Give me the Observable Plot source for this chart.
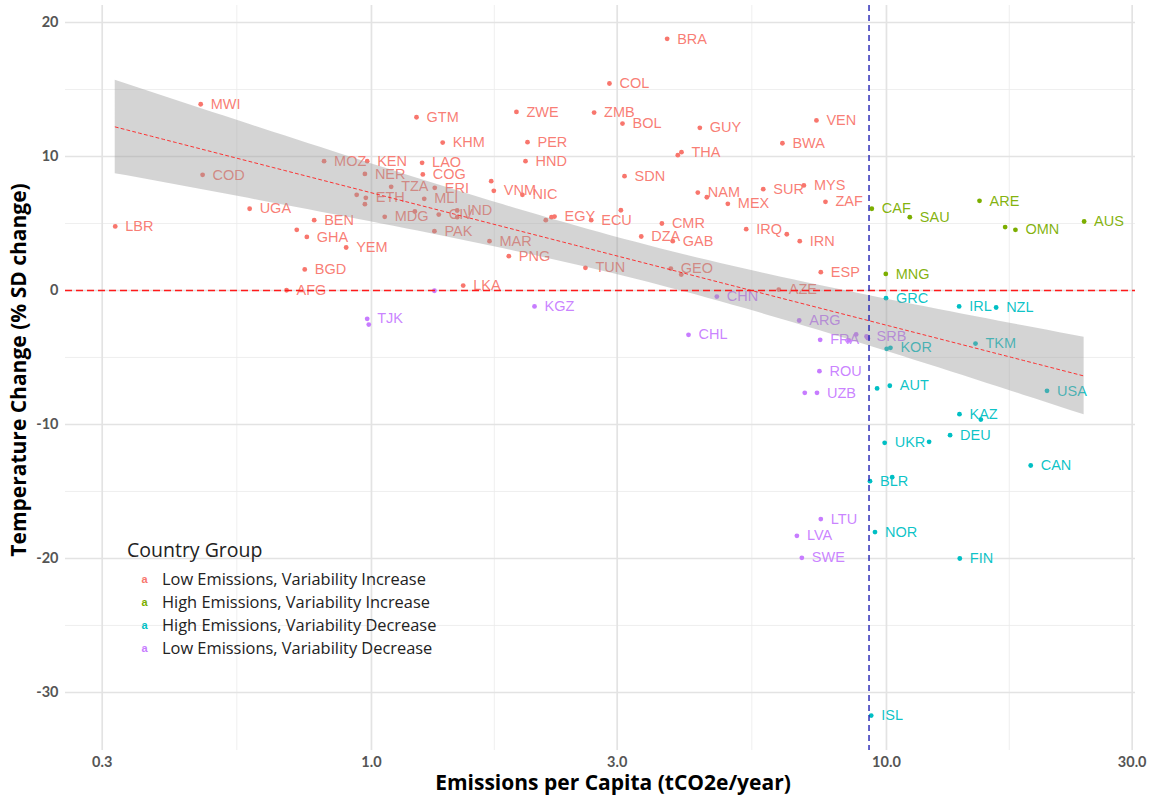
<!DOCTYPE html>
<html>
<head>
<meta charset="utf-8">
<script src="https://cdn.jsdelivr.net/npm/d3@7"></script>
<script src="https://cdn.jsdelivr.net/npm/@observablehq/plot@0.6"></script>
<style>
  html, body { margin: 0; padding: 0; background: #fff; }
  #wrap { position: relative; width: 1156px; height: 798px; overflow: hidden; }
  .ttl { position: absolute; font-family: "Open Sans", Lato, sans-serif; font-weight: 700; color: #000; white-space: nowrap; }
  #legend { position: absolute; left: 127px; top: 536px; font-family: "Open Sans", Lato, sans-serif; color: #222; }
  #legend .lt { font-size: 19.5px; margin-bottom: 4px; line-height: 27px; }
  #legend .it { display: flex; align-items: center; height: 23px; font-size: 16.4px; }
  #legend .k { width: 35px; text-align: center; font: bold 11px "Liberation Sans", Arial, sans-serif; }
</style>
</head>
<body>
<div id="wrap"></div>
<script>
// ---- data ----
const groupNames = {
  LI: "Low Emissions, Variability Increase",
  HI: "High Emissions, Variability Increase",
  HD: "High Emissions, Variability Decrease",
  LD: "Low Emissions, Variability Decrease"
};
const groupOrder = ["LI", "HI", "HD", "LD"];
const groupColors = ["#F8766D", "#7CAE00", "#00BFC4", "#C77CFF"];

const countries = [
  "LBR","MWI","COD","UGA","MOZ","KEN","NER","BEN","","GHA","YEM","BGD","AFG","","ETH","",
  "GTM","KHM","ZWE","PER","HND","ZMB","BOL","COL","LAO","COG","TZA","ERI","MLI","CIV","","IND","",
  "MDG","PAK","LKA","","VNM","NIC","MAR","PNG","EGY","","","ECU","","SDN","TUN","DZA","CMR",
  "BRA","GUY","","THA","VEN","BWA","NAM","","MEX","SUR","MYS","ZAF","IRQ","","IRN","GAB","GEO","","ESP","AZE",
  "CAF","MNG","ARE","SAU","","OMN","AUS",
  "GRC","IRL","NZL","TKM","","KOR","USA","","AUT","KAZ","","UKR","","DEU","BLR","","NOR","CAN","FIN","ISL",
  "TJK","","","KGZ","CHN","CHL","ARG","FRA","","","SRB","","ROU","","UZB","LTU","LVA","SWE"
];
const emissions = [
  0.318,0.466,0.470,0.580,0.809,0.981,0.971,0.774,0.716,0.749,0.893,0.742,0.684,0.936,0.975,0.971,
  1.223,1.375,1.912,2.009,1.991,2.706,3.072,2.898,1.254,1.258,1.092,1.327,1.266,1.351,1.214,1.467,1.467,
  1.061,1.325,1.507,1.708,1.728,1.964,1.695,1.848,2.267,2.236,2.18,2.671,3.05,3.1,2.603,3.341,3.664,
  3.751,4.341,3.934,3.999,7.312,6.28,4.302,4.479,4.92,5.764,6.913,7.613,5.341,6.404,6.786,3.846,3.813,3.995,7.456,6.178,
  9.366,9.97,15.16,11.1,17.0,17.8,24.2,
  9.98,13.84,16.33,14.89,10.01,10.18,20.5,9.59,10.15,13.86,15.25,9.92,12.1,13.29,9.29,10.26,9.5,19.06,13.88,9.34,
  0.981,0.988,1.325,2.073,4.684,4.127,6.77,7.435,8.45,8.733,9.146,9.2,7.41,6.94,7.33,7.456,6.7,6.85
];
const tempChange = [
  4.78,13.9,8.63,6.1,9.65,9.65,8.7,5.25,4.53,4.0,3.21,1.57,0.02,7.14,6.92,6.44,
  12.93,11.04,13.33,11.07,9.65,13.28,12.46,15.45,9.53,8.66,7.74,7.66,6.84,5.67,5.9,5.97,5.47,
  5.5,4.43,0.37,8.16,7.44,7.14,3.68,2.56,5.52,5.47,5.25,5.25,5.99,8.53,1.69,4.03,5.0,
  18.78,12.14,10.1,10.32,12.69,10.99,7.31,6.96,6.47,7.56,7.84,6.62,4.58,4.2,3.68,3.68,1.64,1.19,1.37,0.07,
  6.1,1.24,6.69,5.47,4.73,4.53,5.15,
  -0.57,-1.19,-1.27,-3.96,-4.35,-4.28,-7.49,-7.31,-7.11,-9.23,-9.63,-11.37,-11.29,-10.8,-14.23,-13.93,-18.03,-13.06,-20.0,-31.72,
  -2.11,-2.54,-0.02,-1.19,-0.45,-3.31,-2.24,-3.68,-3.73,-3.28,-3.43,-3.56,-6.02,-7.64,-7.64,-17.06,-18.31,-19.95
];
const groupCodes = [].concat(
  Array(70).fill("LI"), Array(7).fill("HI"), Array(20).fill("HD"), Array(18).fill("LD")
);
const emissionThreshold = 9.25;
const xTicks = [0.3, 1, 3, 10, 30];
const xMinor = [0.5477, 1.732, 5.477, 17.32];
const yTicks = [-30, -20, -10, 0, 10, 20];
const yMinor = [-25, -15, -5, 5, 15];

// ---- table ----
const rows = countries.map((c, i) => ({
  country: c, x: emissions[i], y: tempChange[i], group: groupNames[groupCodes[i]]
}));

// ---- linear fit of y on log10(x) with 95% band ----
const lx = rows.map(d => Math.log10(d.x));
const ys = rows.map(d => d.y);
const n = rows.length;
const mx = d3.mean(lx), my = d3.mean(ys);
let sxx = 0, sxy = 0;
for (let i = 0; i < n; i++) { sxx += (lx[i]-mx)**2; sxy += (lx[i]-mx)*(ys[i]-my); }
const b = sxy / sxx, a = my - b * mx;
let sse = 0;
for (let i = 0; i < n; i++) sse += (ys[i] - (a + b*lx[i]))**2;
const s = Math.sqrt(sse / (n - 2));
const tq = 1.98;
const [lmin, lmax] = d3.extent(lx);
const fit = d3.range(0, 81).map(k => {
  const g = lmin + (lmax - lmin) * k / 80;
  const f = a + b * g;
  const se = s * Math.sqrt(1/n + (g - mx)**2 / sxx);
  return { x: Math.pow(10, g), y: f, lo: f - tq*se, hi: f + tq*se };
});

const colorScale = { domain: groupOrder.map(k => groupNames[k]), range: groupColors };

const chart = Plot.plot({
  width: 1156, height: 798,
  marginLeft: 65, marginRight: 21, marginTop: 5, marginBottom: 48,
  style: { fontFamily: "Lato, sans-serif", fontSize: "14.5px", background: "white", overflow: "visible" },
  x: { type: "log", domain: [0.2546, 30.45] },
  y: { domain: [-34.33, 21.27] },
  color: colorScale,
  marks: [
    Plot.gridX(xMinor, { stroke: "#EBEBEB", strokeOpacity: 1, strokeWidth: 0.8 }),
    Plot.gridY(yMinor, { stroke: "#EBEBEB", strokeOpacity: 1, strokeWidth: 0.8 }),
    Plot.gridX(xTicks, { stroke: "#E3E3E3", strokeOpacity: 1, strokeWidth: 1.7 }),
    Plot.gridY(yTicks, { stroke: "#E3E3E3", strokeOpacity: 1, strokeWidth: 1.7 }),
    Plot.axisX({ ticks: xTicks, tickSize: 0, tickPadding: 6, tickFormat: d3.format(".1f"),
      label: null, fontWeight: "bold", fill: "#555" }),
    Plot.axisY({ ticks: yTicks, tickSize: 0, tickPadding: 7, label: null,
      tickFormat: d => String(d), fontWeight: "bold", fill: "#555" }),
    Plot.dot(rows, { x: "x", y: "y", fill: "group", r: 2.4, stroke: "none" }),
    Plot.text(rows.filter(d => d.country), { x: "x", y: "y", text: "country", fill: "group",
      dx: 10, textAnchor: "start", fontSize: 14.5, fontFamily: "Liberation Sans, Arial, sans-serif",
      fillOpacity: 0.95 }),
    Plot.areaY(fit, { x: "x", y1: "lo", y2: "hi", fill: "#999", fillOpacity: 0.42 }),
    Plot.line(fit, { x: "x", y: "y", stroke: "#FF2020", strokeWidth: 0.9, strokeDasharray: "3,3" }),
    Plot.ruleY([0], { stroke: "#FF1A1A", strokeWidth: 1.3, strokeDasharray: "7,4" }),
    Plot.ruleX([emissionThreshold], { stroke: "#2222B4", strokeWidth: 1.4, strokeDasharray: "6,4" })
  ]
});

const wrap = document.getElementById("wrap");
wrap.appendChild(chart);

const xt = document.createElement("div");
xt.className = "ttl";
xt.textContent = "Emissions per Capita (tCO2e/year)";
xt.style.cssText = "left:613px;top:782px;transform:translate(-50%,-50%);font-size:21px;";
wrap.appendChild(xt);

const yt = document.createElement("div");
yt.className = "ttl";
yt.textContent = "Temperature Change (% SD change)";
yt.style.cssText = "left:18px;top:370px;transform:translate(-50%,-50%) rotate(-90deg);font-size:21px;";
wrap.appendChild(yt);

const lg = document.createElement("div");
lg.id = "legend";
lg.innerHTML = `<div class="lt">Country Group</div>` +
  groupOrder.map((k, i) =>
    `<div class="it"><span class="k" style="color:${groupColors[i]}">a</span><span>${groupNames[k]}</span></div>`
  ).join("");
wrap.appendChild(lg);
</script>
</body>
</html>
